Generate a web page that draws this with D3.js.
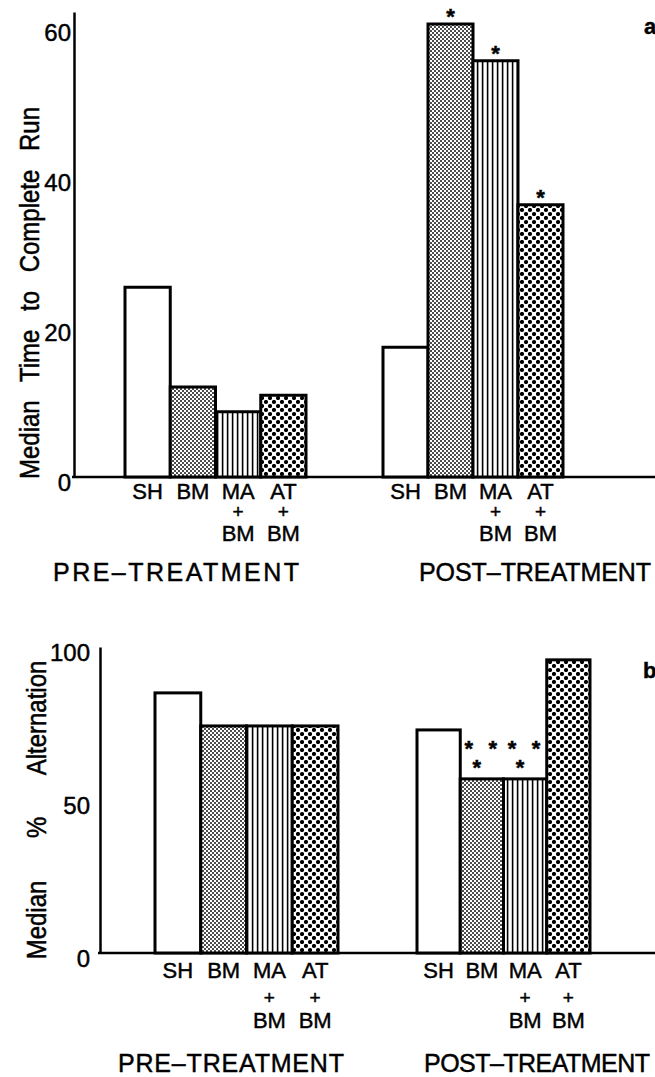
<!DOCTYPE html>
<html>
<head>
<meta charset="utf-8">
<style>
body { margin: 0; background: #fff; }
svg { display: block; font-family: "Liberation Sans", Arial, sans-serif; }
svg text { stroke: #000; stroke-width: 0.45; fill: #000; }
.bar { stroke: #000; stroke-width: 3; }
.axis path { stroke: #000; stroke-width: 2.5; }
.axis text { font-size: 24px; }
.base { stroke: #000; stroke-width: 2.5; }
.cat { font-size: 22px; text-anchor: middle; }
.plus { font-size: 19px; }
.phase { font-size: 25px; text-anchor: middle; }
.ytitle { font-size: 24px; text-anchor: middle; }
.star { font-size: 22px; font-weight: bold; text-anchor: middle; }
.tag { font-size: 22px; font-weight: bold; }
</style>
</head>
<body>
<script src="https://cdnjs.cloudflare.com/ajax/libs/d3/7.8.5/d3.min.js"></script>
<script>

const groups = ['SH', 'BM', 'MA', 'AT'];
const groupLines = [['SH'], ['BM'], ['MA', '+', 'BM'], ['AT', '+', 'BM']];
const phases = ['PRE–TREATMENT', 'POST–TREATMENT'];

// panel a: median time to complete run
const timePre = [25.3, 12.0, 8.7, 10.9];
const timePost = [17.3, 60.4, 55.5, 36.3];
const timeStarsPre = [0, 0, 0, 0];
const timeStarsPost = [0, 1, 1, 1];
const timeTicks = [0, 20, 40, 60];

// panel b: median % alternation
const altPre = [85.0, 74.2, 74.2, 74.2];
const altPost = [72.9, 56.9, 56.9, 95.8];
const altStarsPre = [0, 0, 0, 0];
const altStarsPost = [0, 3, 3, 0];
const altTicks = [0, 50, 100];

const width = 655, height = 1077;

const svg = d3.select('body').append('svg')
    .attr('width', width)
    .attr('height', height);

// fills: SH open, BM fine stipple, MA vertical lines, AT coarse dots
const defs = svg.append('defs');

const pBM = defs.append('pattern').attr('id', 'fillBM')
    .attr('patternUnits', 'userSpaceOnUse').attr('width', 4).attr('height', 4);
pBM.append('rect').attr('width', 4).attr('height', 4).attr('fill', '#fff');
pBM.append('circle').attr('cx', 1).attr('cy', 1).attr('r', 0.95);
pBM.append('circle').attr('cx', 3).attr('cy', 3).attr('r', 0.95);

const pMA = defs.append('pattern').attr('id', 'fillMA')
    .attr('patternUnits', 'userSpaceOnUse').attr('width', 5).attr('height', 10);
pMA.append('rect').attr('width', 5).attr('height', 10).attr('fill', '#fff');
pMA.append('rect').attr('x', 1.8).attr('width', 1.6).attr('height', 10).attr('fill', '#000');

const pAT = defs.append('pattern').attr('id', 'fillAT')
    .attr('patternUnits', 'userSpaceOnUse').attr('width', 8).attr('height', 8);
pAT.append('rect').attr('width', 8).attr('height', 8).attr('fill', '#fff');
pAT.append('circle').attr('cx', 2).attr('cy', 2).attr('r', 2.1);
pAT.append('circle').attr('cx', 6).attr('cy', 6).attr('r', 2.1);

const fills = { SH: '#fff', BM: 'url(#fillBM)', MA: 'url(#fillMA)', AT: 'url(#fillAT)' };

// asterisk layouts: offsets from bar centre / bar top
const starSpots = {
    1: [[0, -12]],
    3: [[-13, -35], [11, -35], [-5, -16]]
};

function drawPanel(cfg) {
    const g = svg.append('g');

    const y = d3.scaleLinear().domain(cfg.yDomain).range([cfg.base, cfg.top]);

    g.append('g')
        .attr('class', 'axis')
        .attr('transform', 'translate(' + cfg.axisX + ',0)')
        .call(d3.axisLeft(y).tickValues(cfg.ticks).tickSize(0).tickSizeOuter(0).tickPadding(cfg.pad))
        .call(a => a.selectAll('text').attr('dy', '0.55em'));

    g.append('line').attr('class', 'base')
        .attr('x1', cfg.axisX - 2).attr('x2', width)
        .attr('y1', cfg.base).attr('y2', cfg.base);

    [cfg.pre, cfg.post].forEach((vals, i) => {
        const x = d3.scaleBand().domain(groups).range(cfg.ranges[i]).padding(0);
        const stars = i === 0 ? cfg.starsPre : cfg.starsPost;
        const rows = groups.map((k, j) => ({ key: k, v: vals[j], n: stars[j], lines: groupLines[j] }));

        g.selectAll(null).data(rows).enter().append('rect')
            .attr('class', 'bar')
            .attr('x', d => x(d.key))
            .attr('width', x.bandwidth())
            .attr('y', d => y(d.v))
            .attr('height', d => y(0) - y(d.v))
            .attr('fill', d => fills[d.key]);

        rows.forEach(d => {
            const cx = x(d.key) + x.bandwidth() / 2;
            (starSpots[d.n] || []).forEach(s => {
                g.append('text').attr('class', 'star')
                    .attr('x', cx + s[0])
                    .attr('y', y(d.v) + s[1] + 12)
                    .text('*');
            });
            d.lines.forEach((t, k) => {
                g.append('text').attr('class', t === '+' ? 'cat plus' : 'cat')
                    .attr('x', cx)
                    .attr('y', cfg.rowY[k])
                    .text(t);
            });
        });

        g.append('text').attr('class', 'phase')
            .attr('x', cfg.phaseX[i])
            .attr('y', cfg.phaseY)
            .attr('textLength', cfg.phaseW[i])
            .attr('lengthAdjust', 'spacing')
            .text(phases[i]);
    });

    g.append('text').attr('class', 'ytitle')
        .attr('transform', 'translate(' + cfg.titleX + ',' + cfg.titleY + ') scale(1.12,1) rotate(-90)')
        .attr('word-spacing', cfg.wordGap)
        .text(cfg.title);

    g.append('text').attr('class', 'tag')
        .attr('x', cfg.tag[0]).attr('y', cfg.tag[1])
        .text(cfg.tagText);
}

drawPanel({
    yDomain: [0, 62], base: 477, top: 12, axisX: 74, pad: 3,
    ticks: timeTicks, pre: timePre, post: timePost,
    starsPre: timeStarsPre, starsPost: timeStarsPost,
    ranges: [[125, 306], [383, 563]],
    rowY: [499, 518, 541], phaseX: [176, 535], phaseY: 581, phaseW: [246, 232],
    title: 'Median Time to Complete Run', titleX: 39, titleY: 293, wordGap: 12,
    tag: [644, 34], tagText: 'a'
});

drawPanel({
    yDomain: [0, 100], base: 953, top: 647, axisX: 100, pad: 10,
    ticks: altTicks, pre: altPre, post: altPost,
    starsPre: altStarsPre, starsPost: altStarsPost,
    ranges: [[155, 338], [417, 590]],
    rowY: [978, 1004, 1028], phaseX: [231, 537], phaseY: 1072, phaseW: [226, 226],
    title: 'Median % Alternation', titleX: 46, titleY: 810, wordGap: 36,
    tag: [643, 678], tagText: 'b'
});

</script>
</body>
</html>
